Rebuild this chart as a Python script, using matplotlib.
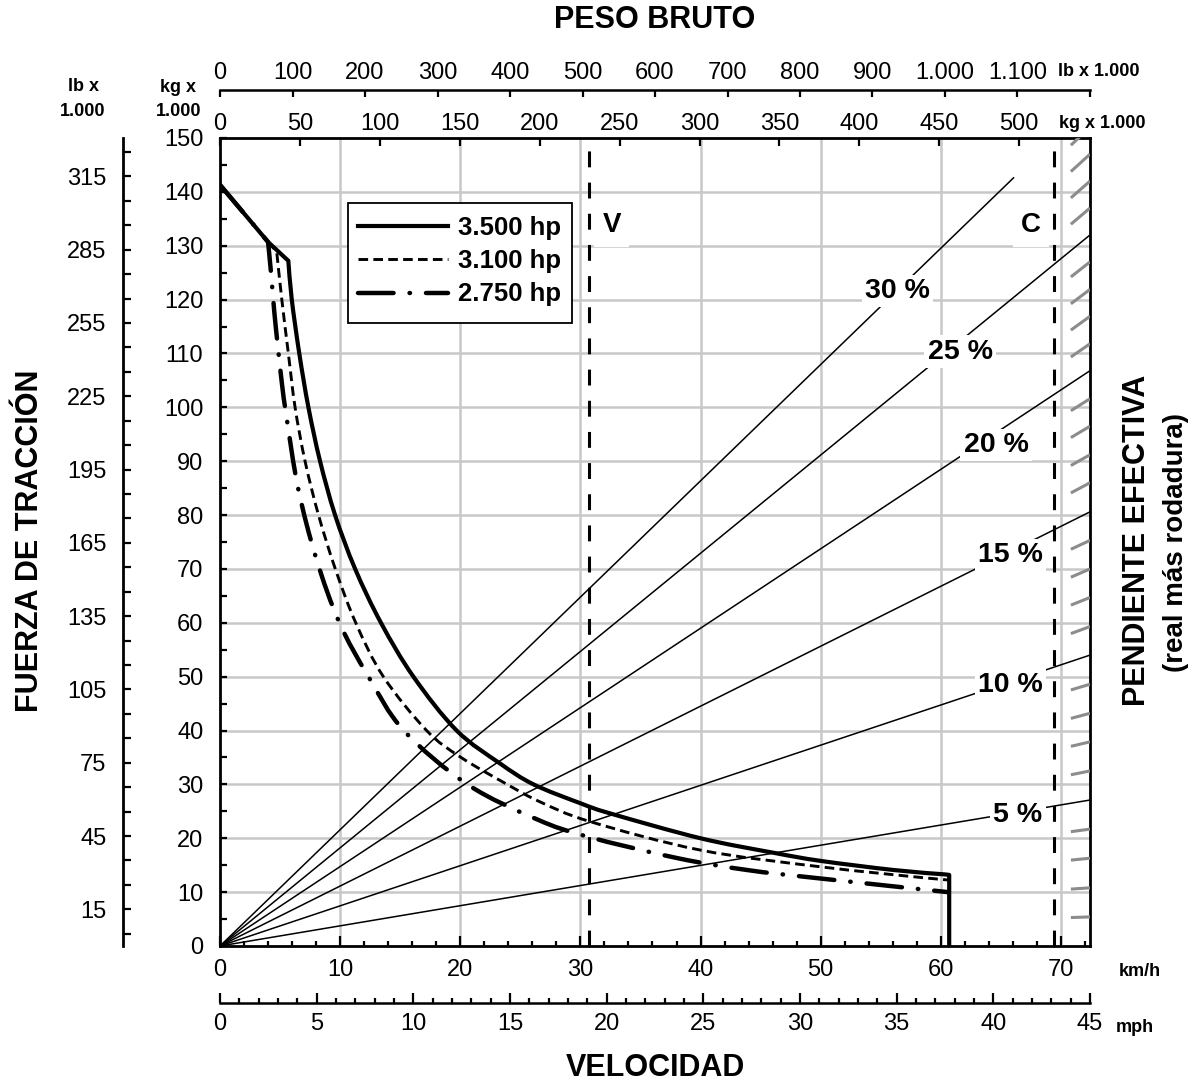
import matplotlib
matplotlib.use("Agg")
import matplotlib.pyplot as plt
from matplotlib.patches import Rectangle, PathPatch
from matplotlib.path import Path
from matplotlib.ticker import MultipleLocator, FixedLocator, FuncFormatter

plt.rcParams['font.family'] = ['Liberation Sans', 'DejaVu Sans']

# traction force curves: speed (km/h) vs force (kg x 1000)
hp_labels = ['3.500 hp', '3.100 hp', '2.750 hp']

speed_3500 = [0, 4.0, 5.69, 5.97, 6.6, 7.36, 8.33, 9.58, 11.25, 13.4, 16.1, 19.7, 23.3,
              26.1, 30.0, 32.5, 40.0, 46.1, 50.0, 56.1, 60.3, 60.7, 60.7]
force_3500 = [141.3, 130.7, 127.2, 120.1, 110.0, 100.0, 90.0, 80.0, 70.0, 60.0, 50.0, 40.0, 33.9,
              30.0, 26.5, 24.6, 20.0, 17.3, 15.8, 14.1, 13.3, 13.2, 0]

speed_3100 = [0, 4.0, 4.72, 5.14, 5.69, 6.25, 7.08, 8.2, 9.6, 11.3, 13.6, 17.2, 20.0,
              23.9, 26.7, 30.8, 40.0, 50.0, 58.9, 60.6]
force_3100 = [141.3, 130.7, 128.9, 120.1, 110.0, 100.0, 90.0, 80.0, 70.0, 60.0, 50.0, 40.0, 35.1,
              30.0, 26.7, 23.1, 17.8, 14.7, 12.6, 12.3]

speed_2750 = [0, 4.0, 4.25, 4.52, 4.82, 5.15, 5.55, 6.5, 8.0, 9.94, 12.36, 15.3, 20.6,
              26.4, 30.6, 38.1, 43.9, 49.7, 60.6]
force_2750 = [141.3, 130.7, 124.9, 117.7, 111.2, 104.5, 98.0, 85.0, 72.0, 60.0, 50.0, 40.0, 30.0,
              23.5, 20.3, 16.3, 14.1, 12.6, 10.0]

# grade lines (from origin to end point)
grade_labels = ['5 %', '10 %', '15 %', '20 %', '25 %', '30 %']
grade_end_speed = [72.42, 72.42, 72.42, 72.42, 72.42, 66.1]
grade_end_force = [27.1, 54.0, 80.6, 106.8, 132.0, 142.7]
grade_label_x = [66.4, 65.8, 65.8, 64.6, 61.6, 56.4]
grade_label_y = [24.3, 48.5, 72.6, 93.0, 110.3, 121.6]

# 1 % marks at the right edge
hatch_end_force = [5.4, 10.8, 16.3, 21.7, 32.5, 37.9, 43.2, 48.6, 59.3, 64.7, 70.0, 75.3,
                   86.0, 91.2, 96.5, 101.6, 111.8, 116.9, 121.9, 127.0, 137.0, 142.0, 147.0, 152.0]

v_speed = 30.69
c_speed = 69.44

kmh_max = 45 * 1.609344   # 45 mph
lb_max = 1200.0           # gross weight at right edge, lb x 1000
KG_PER_LB = 1 / 2.20462


def curve_path(xs, ys, i0, i1):
    """straight segments up to point i0, smooth curve through i0..i1, straight after"""
    pts = list(zip(xs, ys))
    verts, codes = [pts[0]], [Path.MOVETO]
    for p in pts[1:i0 + 1]:
        verts.append(p)
        codes.append(Path.LINETO)
    for i in range(i0, i1):
        p0 = pts[i - 1] if i > i0 else pts[i]
        p1, p2 = pts[i], pts[i + 1]
        p3 = pts[i + 2] if i + 1 < i1 else pts[i + 1]
        c1 = (p1[0] + (p2[0] - p0[0]) / 6, p1[1] + (p2[1] - p0[1]) / 6)
        c2 = (p2[0] - (p3[0] - p1[0]) / 6, p2[1] - (p3[1] - p1[1]) / 6)
        verts += [c1, c2, p2]
        codes += [Path.CURVE4] * 3
    for p in pts[i1 + 1:]:
        verts.append(p)
        codes.append(Path.LINETO)
    return Path(verts, codes)


W, H = 1201, 1092
fig = plt.figure(figsize=(W / 100, H / 100), dpi=100)
ax = fig.add_axes([220 / W, 1 - 946 / H, 870 / W, 808 / H])

ax.set_xlim(0, kmh_max)
ax.set_ylim(0, 150)
ax.xaxis.set_major_locator(FixedLocator(range(0, 71, 10)))
ax.xaxis.set_minor_locator(MultipleLocator(2))
ax.yaxis.set_major_locator(MultipleLocator(10))
ax.yaxis.set_minor_locator(MultipleLocator(5))
ax.tick_params(axis='x', which='major', direction='in', length=7, width=1.6, pad=9, labelsize=17)
ax.tick_params(axis='x', which='minor', direction='in', length=3.5, width=1.6)
ax.tick_params(axis='y', which='both', direction='in', length=5, width=1.6, pad=12, labelsize=17)
ax.tick_params(top=False, right=False, which='both')
for s in ax.spines.values():
    s.set_linewidth(2)

for x in range(10, 71, 10):
    ax.axvline(x, color='#c8c8c8', lw=1.8, zorder=0)
for y in range(10, 141, 10):
    ax.axhline(y, color='#c8c8c8', lw=1.8, zorder=0)

# grade lines
for xe, ye in zip(grade_end_speed, grade_end_force):
    ax.plot([0, xe], [0, ye], color='black', lw=1.1, zorder=3, solid_capstyle='butt')
for lab, lx, ly in zip(grade_labels, grade_label_x, grade_label_y):
    ax.text(lx, ly, lab, ha='center', va='center', fontsize=20.5, fontweight='bold',
            zorder=5, bbox=dict(facecolor='white', edgecolor='none', pad=2.5))

# hatch marks at right
x0 = 70.83
for f in hatch_end_force:
    ax.plot([x0, kmh_max], [f * x0 / kmh_max, f], color='#8c8c8c', lw=2.2,
            zorder=3, solid_capstyle='butt')

# V and C lines
for xv, lab, lx in [(v_speed, 'V', 32.6), (c_speed, 'C', 67.5)]:
    ax.plot([xv, xv], [0, 150], color='black', lw=2.2, dashes=(5.2, 5), zorder=4)
    ax.text(lx, 133.8, lab, ha='center', va='center', fontsize=20, fontweight='bold',
            zorder=5, bbox=dict(facecolor='white', edgecolor='none', pad=6))

# traction curves
styles = [dict(lw=3, ls='-', cap='butt'),
          dict(lw=2.1, ls=(0, (3.3, 1.8)), cap='butt'),
          dict(lw=3.2, ls=(0, (8, 3.6, 0.1, 3.6)), cap='round')]
curves = [(speed_3500, force_3500, 2, len(speed_3500) - 3),
          (speed_3100, force_3100, 2, len(speed_3100) - 1),
          (speed_2750, force_2750, 1, len(speed_2750) - 1)]
handles = []
for (xs, ys, i0, i1), st, lab in zip(curves, styles, hp_labels):
    pp = PathPatch(curve_path(xs, ys, i0, i1), fill=False, edgecolor='black',
                   lw=st['lw'], ls=st['ls'], zorder=4, joinstyle='round',
                   capstyle=st['cap'])
    ax.add_patch(pp)
    h, = ax.plot([], [], color='black', lw=st['lw'], ls=st['ls'], label=lab,
                 dash_capstyle=st['cap'])
    handles.append(h)

# legend box
ax.add_patch(Rectangle(((348.3 - 220) / 870, (946 - 323.3) / 808), 223.4 / 870, 120.6 / 808,
                       transform=ax.transAxes, facecolor='white', edgecolor='black',
                       lw=1.3, zorder=6))
leg = ax.legend(handles=handles, loc='upper left',
                bbox_to_anchor=((358 - 220) / 870, (946 - 216) / 808), borderaxespad=0,
                borderpad=0, prop={'weight': 'bold', 'size': 18.5}, handlelength=3.5,
                handletextpad=0.4, labelspacing=0.36, frameon=False)
leg.set_zorder(7)

dotfmt = FuncFormatter(lambda v, p: f'{v:,.0f}'.replace(',', '.'))

# top: gross weight kg x 1000
kg_per_kmh = lb_max * KG_PER_LB / kmh_max
sec_kg = ax.secondary_xaxis('top', functions=(lambda x: x * kg_per_kmh, lambda k: k / kg_per_kmh))
sec_kg.set_xticks(range(0, 501, 50))
sec_kg.xaxis.set_major_formatter(dotfmt)
sec_kg.tick_params(direction='in', length=5.5, width=1.6, pad=2, labelsize=17)

# top: gross weight lb x 1000
lb_per_kmh = lb_max / kmh_max
sec_lb = ax.secondary_xaxis(1.06, functions=(lambda x: x * lb_per_kmh, lambda l: l / lb_per_kmh))
sec_lb.xaxis.set_major_locator(FixedLocator(range(0, 1201, 100)))
sec_lb.xaxis.set_major_formatter(FuncFormatter(
    lambda v, p: '' if v > 1150 else f'{v:,.0f}'.replace(',', '.')))
sec_lb.tick_params(direction='in', length=5, width=1.6, pad=4, labelsize=17)
sec_lb.spines['top'].set_linewidth(1.8)

# bottom: mph
sec_mph = ax.secondary_xaxis(-0.0705, functions=(lambda x: x / 1.609344, lambda m: m * 1.609344))
sec_mph.xaxis.set_major_locator(FixedLocator(range(0, 46, 5)))
sec_mph.xaxis.set_minor_locator(MultipleLocator(1))
sec_mph.tick_params(which='major', direction='in', length=7, width=1.6, pad=7.5, labelsize=17)
sec_mph.tick_params(which='minor', direction='in', length=3.5, width=1.6)
sec_mph.spines['bottom'].set_linewidth(1.8)

# left: force lb x 1000
sec_lbf = ax.secondary_yaxis(-0.1115, functions=(lambda k: k / KG_PER_LB, lambda l: l * KG_PER_LB))
sec_lbf.yaxis.set_major_locator(FixedLocator(range(15, 316, 30)))
sec_lbf.yaxis.set_minor_locator(FixedLocator([v for v in range(5, 326, 10) if (v - 15) % 30]))
sec_lbf.tick_params(which='both', direction='in', length=5.5, width=1.6, pad=12, labelsize=17)
sec_lbf.spines['left'].set_linewidth(2)


def ftext(px, py, s, **kw):
    fig.text(px / W, 1 - py / H, s, ha='center', va='center', fontweight='bold', **kw)


ftext(655, 20, 'PESO BRUTO', fontsize=22)
ftext(655, 1068, 'VELOCIDAD', fontsize=22)
ftext(30, 541, 'FUERZA DE TRACCIÓN', fontsize=22, rotation=90)
ftext(1137, 540, 'PENDIENTE EFECTIVA', fontsize=22, rotation=90)
ftext(1176, 543, '(real más rodadura)', fontsize=20, rotation=90)
ftext(83, 87, 'lb x', fontsize=13)
ftext(83, 111, '1.000', fontsize=13)
ftext(178, 88, 'kg x', fontsize=13)
ftext(179, 111, '1.000', fontsize=13)
ftext(1099, 72, 'lb x 1.000', fontsize=13)
ftext(1102, 124, 'kg x 1.000', fontsize=13)
ftext(1140, 972, 'km/h', fontsize=13)
ftext(1135, 1028, 'mph', fontsize=13)

fig.savefig('out.png', dpi=100)
